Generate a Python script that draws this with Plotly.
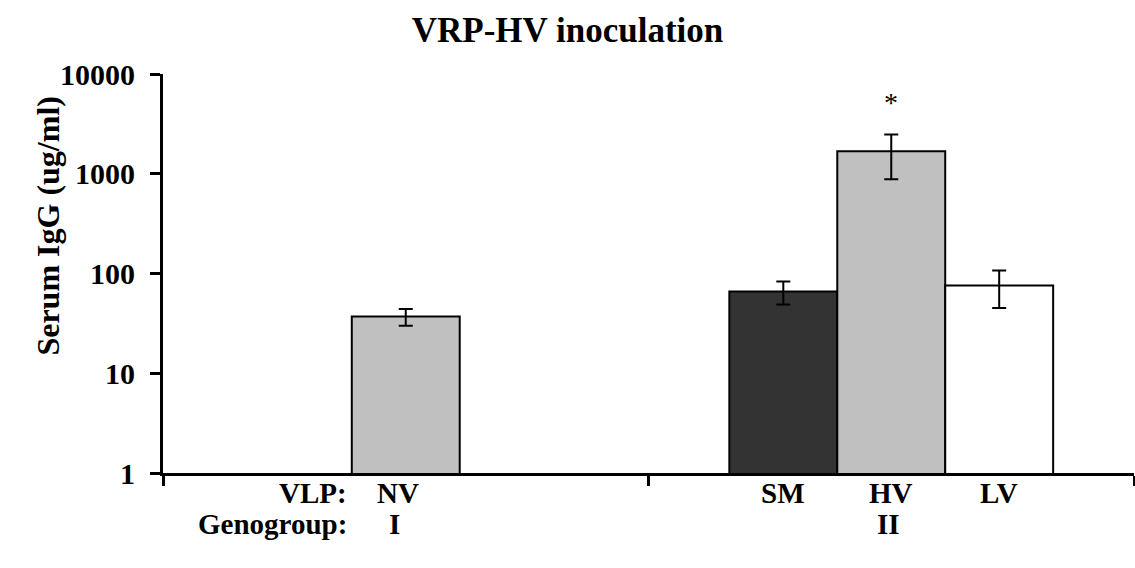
import plotly.graph_objects as go

# Serum IgG after VRP-HV inoculation, grouped by genogroup
groups = ["I", "II"]
sm_vals = [None, 66]
sm_err = [None, 17]
gray_vals = [37, 1680]
gray_err = [7, 800]
lv_vals = [None, 76]
lv_err = [None, 31]

y_ticks = [1, 10, 100, 1000, 10000]
y_ticktext = ["1", "10", "100", "1000", "10000"]

FONT = "Liberation Serif, Times New Roman, serif"
BAR_FRACTION = 1 - 0.333  # share of each group taken by the three bars
bar_w = BAR_FRACTION / 3

fig = go.Figure()
for name, vals, errs, color in [
    ("SM", sm_vals, sm_err, "#333333"),
    ("NV/HV", gray_vals, gray_err, "#c0c0c0"),
    ("LV", lv_vals, lv_err, "#ffffff"),
]:
    fig.add_trace(go.Bar(
        x=groups, y=vals, name=name,
        marker=dict(color=color, line=dict(color="black", width=2)),
        error_y=dict(type="data", array=errs, visible=True,
                     color="black", thickness=2, width=7),
    ))

fig.update_layout(
    width=1135, height=568,
    margin=dict(l=163, r=1, t=74, b=95),
    paper_bgcolor="white", plot_bgcolor="white",
    barmode="group", bargap=0.333, bargroupgap=0,
    showlegend=False,
    font=dict(family=FONT, color="black"),
    title=dict(text="VRP-HV inoculation", x=0.5, xanchor="center",
               y=1 - 30 / 568, yanchor="middle", yref="container",
               font=dict(size=35, family=FONT, weight="bold")),
)

fig.update_xaxes(
    type="category", range=[-0.5, 1.5], tickson="boundaries",
    ticks="outside", ticklen=10, tickwidth=3, tickcolor="black",
    showticklabels=False, showline=True, linewidth=3, linecolor="black",
    showgrid=False, zeroline=False,
)
fig.update_yaxes(
    type="log", range=[0, 4], tickvals=y_ticks, ticktext=y_ticktext,
    ticks="outside", ticklen=10, tickwidth=3, tickcolor="black",
    showline=True, linewidth=3, linecolor="black", showgrid=False,
    tickfont=dict(size=30, family=FONT, weight="bold"), ticklabelstandoff=9,
)

# Y axis title
fig.add_annotation(text="Serum IgG (ug/ml)", textangle=-90,
                   xref="paper", yref="paper", x=(28 - 163) / 971, y=0.62,
                   showarrow=False, font=dict(size=32, family=FONT, weight="bold"))

# Category labels under the bars
label_font = dict(size=29, family=FONT, weight="bold")
row1 = -20 / 399
row2 = -51 / 399
fig.add_annotation(text="VLP:", x=0, xshift=-57, xanchor="right",
                   yref="paper", y=row1, yanchor="middle", showarrow=False, font=label_font)
fig.add_annotation(text="Genogroup:", x=0, xshift=-57, xanchor="right",
                   yref="paper", y=row2, yanchor="middle", showarrow=False, font=label_font)
fig.add_annotation(text="NV", x=0, xshift=-8, xanchor="center",
                   yref="paper", y=row1, yanchor="middle", showarrow=False, font=label_font)
fig.add_annotation(text="I", x=0, xshift=-11, xanchor="center",
                   yref="paper", y=row2, yanchor="middle", showarrow=False, font=label_font)
for name, off in [("SM", -1), ("HV", 0), ("LV", 1)]:
    fig.add_annotation(text=name, x=1 + off * bar_w, xref="x",
                       xanchor="center", yref="paper", y=row1, yanchor="middle",
                       showarrow=False, font=label_font)
fig.add_annotation(text="II", x=1, xshift=-3, xanchor="center",
                   yref="paper", y=row2, yanchor="middle", showarrow=False, font=label_font)

# Significance marker above HV
fig.add_annotation(text="*", x=1, y=3.71, yref="y", xanchor="center",
                   yanchor="middle", showarrow=False,
                   font=dict(size=28, family=FONT))

fig.write_html("out.html")
